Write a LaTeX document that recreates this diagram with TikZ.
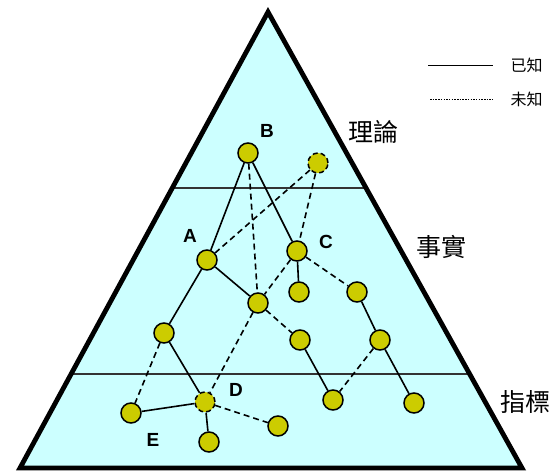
\documentclass[tikz,border=0pt]{standalone}
\usepackage{fontspec}
\setmainfont{Liberation Sans}
\newfontfamily\cjk{Noto Sans CJK TC}
\usetikzlibrary{positioning}
\definecolor{paleaqua}{HTML}{CCFFFF}
\definecolor{dotyellow}{HTML}{CCCC00}

\begin{document}
\begin{tikzpicture}[
    x=1pt, y=-1pt,
    dot/.style={circle, draw, fill=dotyellow, line width=1.5pt, minimum size=20pt, inner sep=0pt},
    hiddendot/.style={dot, dash pattern=on 5pt off 3pt},
    known/.style={line width=1.6pt},
    unknown/.style={line width=1.6pt, dash pattern=on 6pt off 4pt},
    tag/.style={font=\bfseries\fontsize{19}{19}\selectfont},
    level/.style={anchor=west, font=\cjk\fontsize{25}{25}\selectfont},
    keytext/.style={anchor=west, font=\cjk\fontsize{16}{16}\selectfont}
]
\useasboundingbox (0,0) rectangle (553,473);

% pyramid
\coordinate (top) at (268,12);
\coordinate (bl) at (20,468);
\coordinate (br) at (522,468);
\fill[paleaqua] (top) -- (bl) -- (br) -- cycle;
\begin{scope}
  \clip (top) -- (bl) -- (br) -- cycle;
  \draw[line width=1.8pt, black!80] (0,188) -- (553,188);
  \draw[line width=1.8pt, black!80] (0,374) -- (553,374);
\end{scope}
\draw[line width=4.8pt, line join=miter] (top) -- (bl) -- (br) -- cycle;

% levels
\node[level] (theory) at (345,132) {理論};
\node[level] (facts) at (413,247) {事實};
\node[level] (index) at (497,402) {指標};

% legend
\coordinate (k1) at (428,65);
\coordinate (k2) at (493,65);
\coordinate (u1) at (430,99);
\coordinate (u2) at (493,99);
\draw[line width=0.8pt] (k1) -- (k2);
\draw[line width=0.7pt, dash pattern=on 1.5pt off 1.2pt] (u1) -- (u2);
\node[keytext] (knowntxt) at (507,65) {已知};
\node[keytext] (unknowntxt) at (507,99) {未知};

% dots
\node[dot] (b) at (248,153) {};
\node[hiddendot] (t) at (318,163) {};
\node[dot] (a) at (207,260) {};
\node[dot] (c) at (297,251) {};
\node[dot] (c1) at (299,292) {};
\node[dot] (c2) at (357,292) {};
\node[dot] (m) at (258,303) {};
\node[dot] (l) at (164,333) {};
\node[dot] (m1) at (300,340) {};
\node[dot] (c3) at (380,340) {};
\node[hiddendot] (d) at (205,402) {};
\node[dot] (e) at (131,413) {};
\node[dot] (d1) at (209,442) {};
\node[dot] (d2) at (278,426) {};
\node[dot] (m2) at (333,400) {};
\node[dot] (c4) at (414,403) {};

% letters
\node[tag] (tb) at (267,131) {B};
\node[tag] (ta) at (190,236) {A};
\node[tag] (tc) at (326,242) {C};
\node[tag] (td) at (236,390) {D};
\node[tag] (te) at (153,440) {E};

% known links
\draw[known] (b) -- (a);
\draw[known] (b) -- (c);
\draw[known] (a) -- (m);
\draw[known] (a) -- (l);
\draw[known] (c) -- (c1);
\draw[known] (l) -- (d);
\draw[known] (d) -- (e);
\draw[known] (d) -- (d1);
\draw[known] (c2) -- (c3);
\draw[known] (c3) -- (c4);
\draw[known] (m1) -- (m2);

% unknown links
\draw[unknown] (b) -- (m);
\draw[unknown] (t) -- (a);
\draw[unknown] (t) -- (c);
\draw[unknown] (c) -- (m);
\draw[unknown] (c) -- (c2);
\draw[unknown] (m) -- (m1);
\draw[unknown] (m) -- (d);
\draw[unknown] (l) -- (e);
\draw[unknown] (d) -- (d2);
\draw[unknown] (c3) -- (m2);
\end{tikzpicture}
\end{document}
